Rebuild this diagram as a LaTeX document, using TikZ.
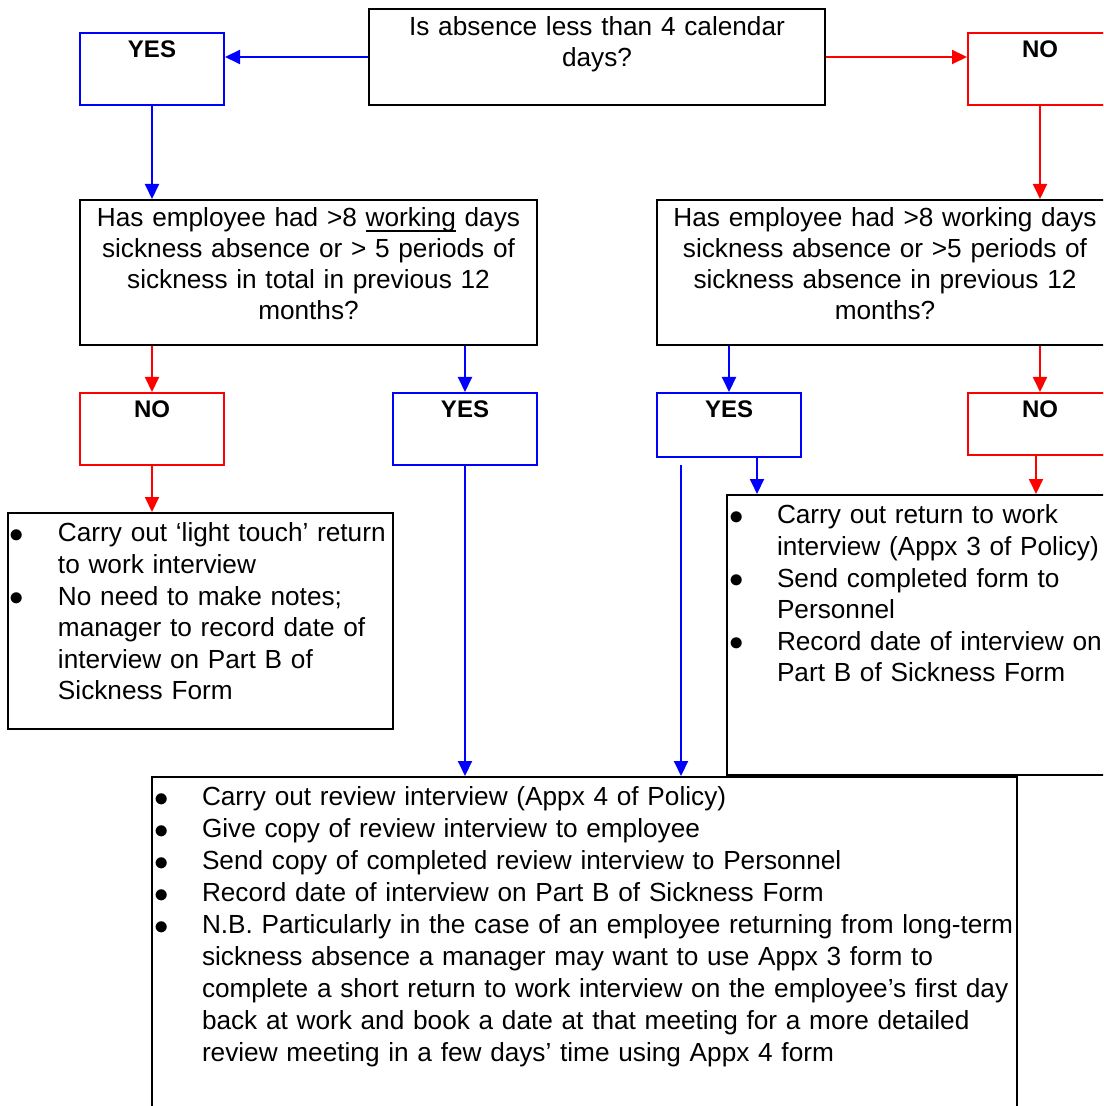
\documentclass[tikz,border=0pt]{standalone}
\usepackage{fontspec}
\setmainfont{Liberation Sans}
\usetikzlibrary{arrows.meta}

\newlength{\bulind}
\setlength{\bulind}{24pt}
% first item of a list, then \nextbul for the others
\newcommand{\bul}{\hangindent=\bulind\hangafter=1\noindent\makebox[\bulind][l]{\raisebox{-0.3pt}{\scalebox{1.2}{$\bullet$}}}}
\newcommand{\nextbul}{\par\bul}
\newcommand{\undl}[1]{\setbox0\hbox{#1}\rlap{\rule[-2.5pt]{\wd0}{0.6pt}}\box0\relax}

\begin{document}
\begin{tikzpicture}[x=0.5pt, y=-0.5pt, line width=1pt,
    >={Triangle[length=7.5pt,width=7pt]},
    box/.style={draw, line width=1pt, inner sep=0pt},
    yesbox/.style={box, draw=blue, minimum width=72pt},
    nobox/.style={box, draw=red, minimum width=72pt},
    txt/.style={inner xsep=1pt, inner ysep=5pt, font=\fontsize{13.1pt}{15.8pt}\selectfont},
    qtxt/.style={txt, inner ysep=3.8pt, font=\fontsize{13.1pt}{15.5pt}\selectfont, anchor=north, text width=240pt, align=center},
    lbl/.style={inner sep=4pt, font=\fontsize{12pt}{14pt}\selectfont\bfseries},
    yesline/.style={->, blue},
    noline/.style={->, red}]

    \useasboundingbox (0,0) rectangle (1103,1106);
    \clip (0,0) rectangle (1103,1106);

    % first question
    \node[box, minimum width=228pt, minimum height=48pt] (absence) at (597,57) {};
    \node[qtxt] (absencetxt) at (absence.north)
        {Is absence less than 4 calendar\\days?};

    \node[yesbox, minimum height=36pt] (yes1) at (152,69) {};
    \node[lbl, anchor=north] (yes1lbl) at (yes1.north) {YES};
    \node[nobox, minimum height=36pt] (no1) at (1040,69) {};
    \node[lbl, anchor=north] (no1lbl) at (no1.north) {NO};

    % second questions
    \node[box, minimum width=228.5pt, minimum height=72.5pt] (histL) at (308.5,272.5) {};
    \node[qtxt] (histLtxt) at (histL.north)
        {Has employee had >8 \undl{working} days\\sickness absence or > 5 periods of\\sickness in total in previous 12\\months?};
    \node[box, minimum width=228pt, minimum height=72.5pt] (histR) at (885,272.5) {};
    \node[qtxt] (histRtxt) at (histR.north)
        {Has employee had >8 working days\\sickness absence or >5 periods of\\sickness absence in previous 12\\months?};

    \node[nobox, minimum height=36pt] (noL) at (152,429) {};
    \node[lbl, anchor=north] (noLlbl) at (noL.north) {NO};
    \node[yesbox, minimum height=36pt] (yesL) at (465,429) {};
    \node[lbl, anchor=north] (yesLlbl) at (yesL.north) {YES};
    \node[yesbox, minimum height=32pt] (yesR) at (729,425) {};
    \node[lbl, anchor=north] (yesRlbl) at (yesR.north) {YES};
    \node[nobox, minimum height=31pt] (noR) at (1040,424) {};
    \node[lbl, anchor=north] (noRlbl) at (noR.north) {NO};

    % outcomes
    \node[box, minimum width=192.5pt, minimum height=108pt] (light) at (200.5,621) {};
    \node[txt, anchor=north west, text width=210pt] (lighttxt) at (light.north west) {\raggedright
        \bul Carry out ‘light touch’ return\newline to work interview
        \nextbul No need to make notes;\newline manager to record date of\newline interview on Part B of\newline Sickness Form\par};

    \node[box, minimum width=193pt, minimum height=140pt] (rtw) at (920,635) {};
    \node[txt, anchor=north west, text width=210pt] (rtwtxt) at (rtw.north west) {\raggedright
        \bul Carry out return to work\newline interview (Appx 3 of Policy)
        \nextbul Send completed form to\newline Personnel
        \nextbul Record date of interview on\newline Part B of Sickness Form\par};

    \node[box, minimum width=432.5pt, minimum height=176.5pt] (review) at (584.5,953.5) {};
    \node[txt, font=\fontsize{13.1pt}{16pt}\selectfont, anchor=north west, text width=450pt] (reviewtxt) at (review.north west) {\raggedright
        \bul Carry out review interview (Appx 4 of Policy)
        \nextbul Give copy of review interview to employee
        \nextbul Send copy of completed review interview to Personnel
        \nextbul Record date of interview on Part B of Sickness Form
        \nextbul N.B. Particularly in the case of an employee returning from long-term\newline
        sickness absence a manager may want to use Appx 3 form to\newline
        complete a short return to work interview on the employee’s first day\newline
        back at work and book a date at that meeting for a more detailed\newline
        review meeting in a few days’ time using Appx 4 form\par};

    % connectors
    \draw[yesline] (absence.west) -- (absence.west -| yes1.east);
    \draw[noline] (absence.east) -- (absence.east -| no1.west);
    \draw[yesline] (yes1.south) -- (yes1.south |- histL.north);
    \draw[noline] (no1.south) -- (no1.south |- histR.north);
    \draw[noline] (noL.north |- histL.south) -- (noL.north);
    \draw[yesline] (yesL.north |- histL.south) -- (yesL.north);
    \draw[yesline] (yesR.north |- histR.south) -- (yesR.north);
    \draw[noline] (noR.north |- histR.south) -- (noR.north);
    \draw[noline] (noL.south) -- (noL.south |- light.north);
    \draw[yesline] (yesL.south) -- (yesL.south |- review.north);
    \coordinate (yesRout) at ([xshift=14pt]yesR.south);
    \draw[yesline] (yesRout) -- (yesRout |- rtw.north);
    \coordinate (noRout) at ([xshift=-2pt]noR.south);
    \draw[noline] (noRout) -- (noRout |- rtw.north);
    \coordinate (direct) at (681,465);
    \draw[yesline] (direct) -- (direct |- review.north);
\end{tikzpicture}
\end{document}
